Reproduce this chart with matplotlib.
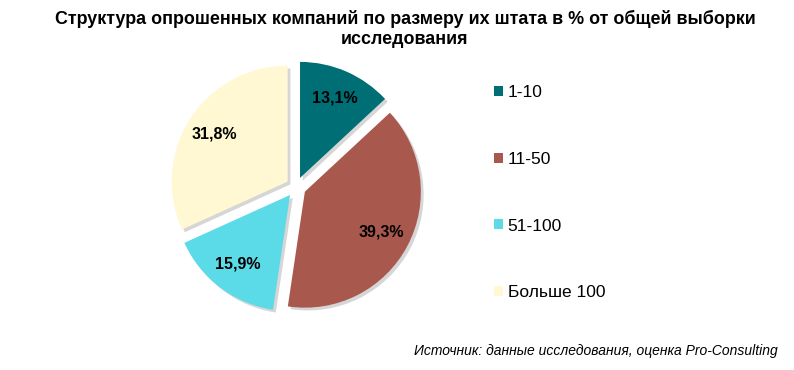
import matplotlib.pyplot as plt
from matplotlib import patheffects as pe
from matplotlib.patches import Patch

plt.rcParams['font.family'] = ['Liberation Sans', 'DejaVu Sans']

# Company size groups and their share of the sample, %
labels = ['1-10', '11-50', '51-100', 'Больше 100']
shares = [13.1, 39.3, 15.9, 31.8]
colors = ['#006E75', '#A9584D', '#5BDAE8', '#FFF8D3']

title = 'Структура опрошенных компаний по размеру их штата в % от общей выборки\nисследования'
source = 'Источник: данные исследования, оценка Pro-Consulting'

fig = plt.figure(figsize=(7.94, 3.70), dpi=100)

# pie axes: radius 1 ~ 116 px, centre at (296, 187) px
ax = fig.add_axes([0.1829, 0.087, 0.3799, 0.815])
wedges, texts, autotexts = ax.pie(
    shares, colors=colors, startangle=90, counterclock=False,
    explode=[0.086] * 4, autopct=lambda p: f'{p:.1f}%'.replace('.', ','),
    pctdistance=0.75, wedgeprops=dict(linewidth=0),
    textprops=dict(fontsize=11.5, fontweight='bold', color='black'))
for w in wedges:
    w.set_path_effects([pe.SimplePatchShadow(offset=(2, -2), shadow_rgbFace='#999999', alpha=0.4),
                        pe.Normal()])
ax.set_xlim(-1.3, 1.3)
ax.set_ylim(-1.3, 1.3)
ax.set_aspect('equal')
ax.axis('off')

handles = [Patch(facecolor=c, edgecolor='none') for c in colors]
fig.legend(handles, labels, loc='upper left', bbox_to_anchor=(0.622, 0.77),
           frameon=False, fontsize=12.5, handlelength=0.5, handleheight=0.5,
           handletextpad=0.3, labelspacing=2.98, borderpad=0, borderaxespad=0)

fig.text(0.51, 0.973, title, ha='center', va='top', fontsize=12.9,
         fontweight='bold', linespacing=1.2)
fig.text(0.98, 0.05, source, ha='right', va='center', fontsize=10,
         style='italic')

fig.savefig('out.png', dpi=100)
